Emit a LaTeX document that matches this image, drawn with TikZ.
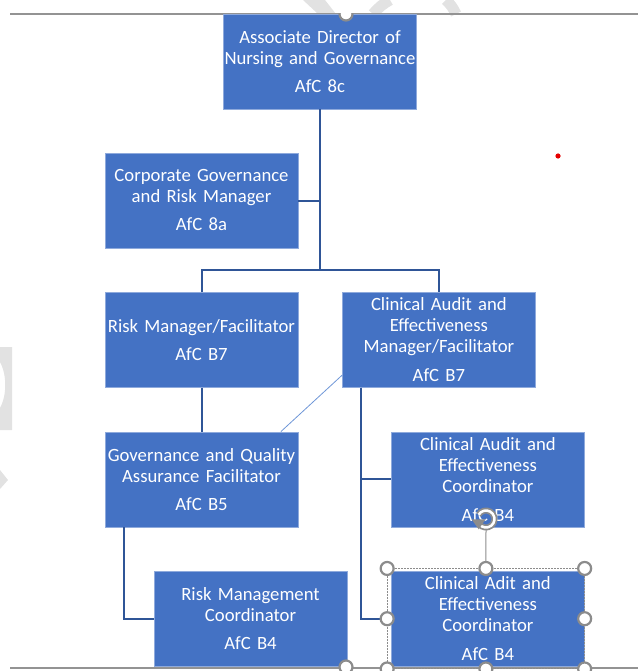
\documentclass[tikz,border=0pt]{standalone}
\usepackage{fontspec}
\setmainfont{Carlito}[WordSpace=0.8]
\usetikzlibrary{arrows.meta, positioning}

\definecolor{boxblue}{RGB}{68,114,196}
\definecolor{boxedge}{RGB}{143,170,220}
\definecolor{linkblue}{RGB}{47,85,151}
\definecolor{thinblue}{RGB}{110,150,215}
\definecolor{handlegray}{RGB}{140,140,140}
\definecolor{wmgray}{RGB}{226,226,226}

\tikzset{
  post/.style={draw=boxedge, fill=boxblue, text=white, minimum width=193pt,
    minimum height=95pt, inner sep=0pt, text width=193pt, align=center,
    font=\fontsize{18.7}{21}\selectfont},
  link/.style={draw=linkblue, line width=2pt},
  handle/.style={circle, draw=handlegray, fill=white, line width=2.2pt,
    minimum size=13pt, inner sep=0pt},
}

\begin{document}
\begin{tikzpicture}[x=1pt, y=-1pt, node distance=44pt]
\useasboundingbox (0,0) rectangle (638,671);

% faint watermark behind the chart
\fill[wmgray] (303,0) -- (325,0) -- (336,14) -- (318,14) -- cycle;
\draw[wmgray, line width=11pt] (373,14) to[bend left=10] (390,0);
\draw[wmgray, line width=11pt] (446,0) to[bend left=10] (456,14);
\fill[wmgray] (0,347) -- (12,347) -- (12,430) -- (0,430) -- (0,408)
  .. controls (7,395) and (7,375) .. (0,362) -- cycle;
\fill[wmgray] (0,470) -- (8,480) -- (0,489) -- cycle;

% page rules
\draw[gray!85, line width=1.2pt] (10,14) -- (638,14);
\draw[gray!85, line width=1.2pt] (10,668) -- (638,668);

% posts
\node[post] (adn) at (320,61.5) {Associate Director of\\Nursing and Governance\\[7pt]AfC 8c};
\node[post] (corp) at (201.5,200.5) {Corporate Governance\\and Risk Manager\\[7pt]AfC 8a};
\node[post, below=44pt of corp] (riskmgr) {Risk Manager/Facilitator\\[7pt]AfC B7};
\node[post, right=44pt of riskmgr] (camgr) {Clinical Audit and\\Effectiveness\\Manager/Facilitator\\[8pt]AfC B7};
\node[post, below=44pt of riskmgr] (gqaf) {Governance and Quality\\Assurance Facilitator\\[7pt]AfC B5};
\node[post, below=44pt of camgr, xshift=49pt] (cacoord) {Clinical Audit and\\Effectiveness\\Coordinator\\[8pt]AfC B4};
\node[post, below=44pt of gqaf, xshift=49pt] (rmcoord) {Risk Management\\Coordinator\\[7pt]AfC B4};
\node[post, below=44pt of cacoord] (cadcoord) {Clinical Adit and\\Effectiveness\\Coordinator\\[8pt]AfC B4};

% reporting lines
\path (corp.south) -- coordinate[midway] (bus) (riskmgr.north);
\draw[link] (adn.south) -- (bus -| adn.south);
\draw[link] (corp.east) -- (corp.east -| adn.south);
\draw[link] (riskmgr.north) |- (bus) -| (camgr.north);
\draw[link] (riskmgr.south) -- (gqaf.north);
\draw[thinblue, line width=0.8pt] (camgr.200) -- (gqaf.31);
\coordinate (catrunk) at ([xshift=19pt]camgr.south west);
\draw[link] (catrunk) |- (cacoord.west);
\draw[link] (catrunk) |- (cadcoord.west);
\coordinate (gqtrunk) at ([xshift=19pt]gqaf.south west);
\draw[link] (gqtrunk) |- (rmcoord.west);

% selection handles
\node[minimum width=197pt, minimum height=100pt, draw=handlegray, densely dotted,
  line width=0.5pt] (sel) at ([xshift=-2pt]cadcoord) {};
\coordinate (rot) at (486,519);
\draw[handlegray, line width=1pt] (sel.north) -- ([yshift=-10pt]rot);
\foreach \a in {north west, north, north east, west, east, south west, south, south east}
  \node[handle] at (sel.\a) {};
\begin{scope}
  \clip (0,14) rectangle (638,671);
  \node[handle] (toph) at (346,14) {};
\end{scope}
\node[handle] (both) at (346,667) {};
\draw[handlegray, line width=6pt] ([shift={(150:8.5pt)}]rot) arc[start angle=150, end angle=-150, radius=8.5pt];
\draw[white, line width=2.5pt] ([shift={(150:8.5pt)}]rot) arc[start angle=150, end angle=-150, radius=8.5pt];
\fill[handlegray] ([shift={(-150:8.5pt)}]rot) ++(-7pt,4pt) -- ++(14pt,0pt) -- ++(-7pt,-10pt) -- cycle;

% stray mark
\fill[red!90!black] (558,156) circle[radius=2.6pt];
\end{tikzpicture}
\end{document}
